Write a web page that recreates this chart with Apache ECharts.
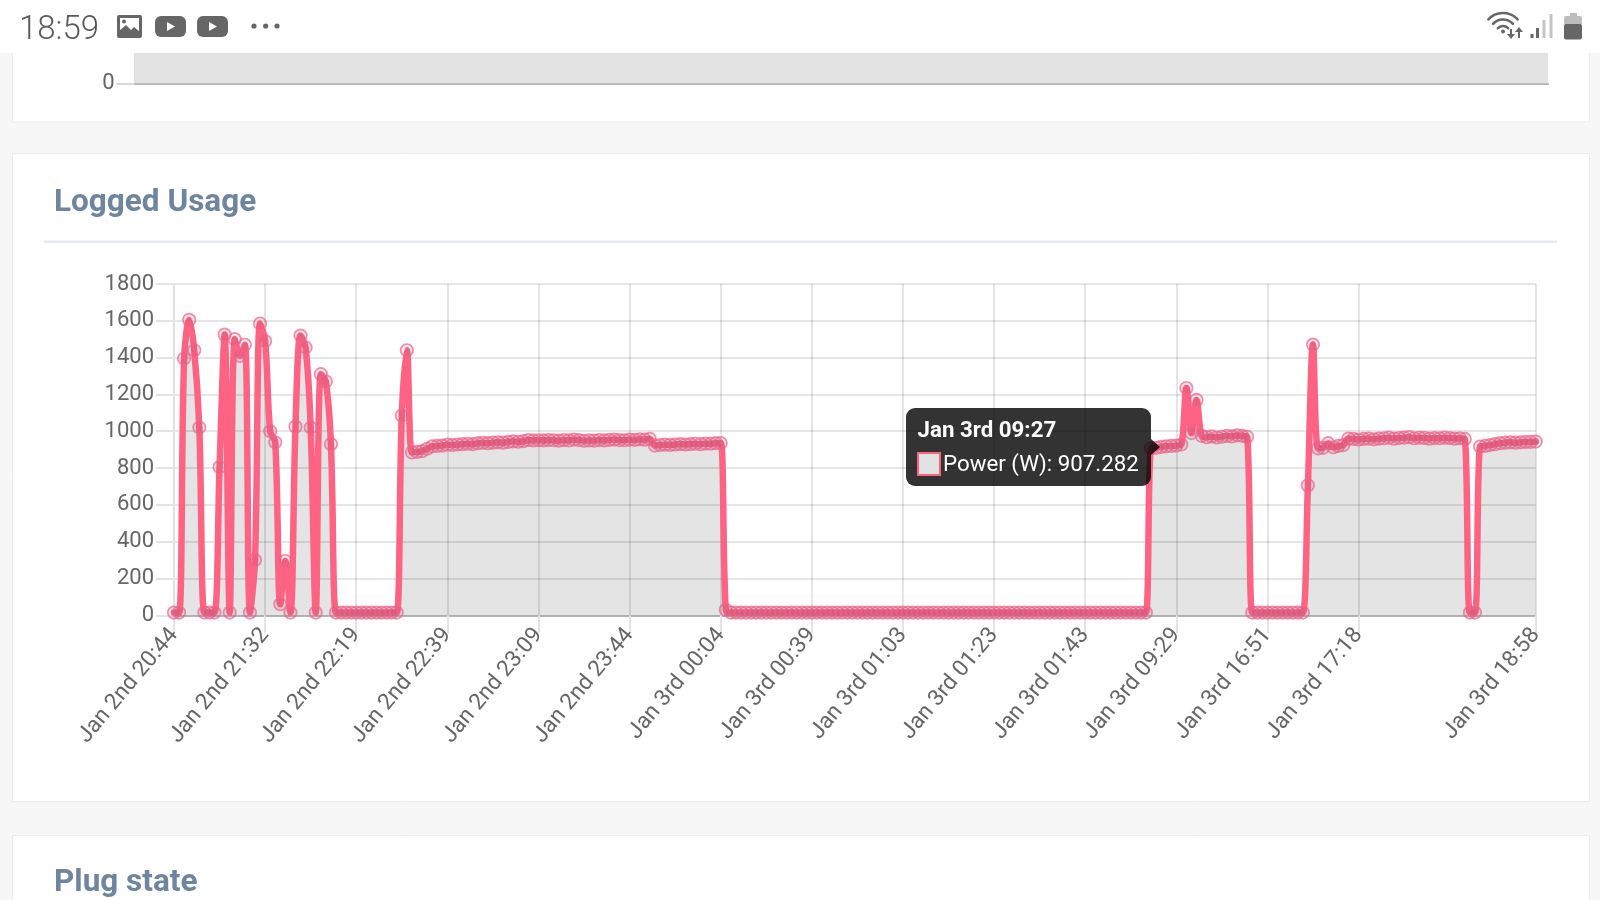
<!DOCTYPE html>
<html>
<head>
<meta charset="utf-8">
<style>html,body{margin:0;padding:0;background:#f7f7f7}#c{width:1600px;height:900px}</style>
<script src="https://cdn.jsdelivr.net/npm/echarts@6/dist/echarts.min.js"></script>
</head>
<body>
<div id="c"></div>
<script>
// ---- data ----
var burstValues = [15,15,1395,1605,1440,1020,15,15,15,805,1525,15,1500,1410,1470,15,300,1585,1490,1000,940,60,295,15,1025,1520,1455,1020,15,1310,1270,930,15,15,15,15,15,15,15,15,15,15,15,15,15,1085,1440];
var plateauA = [885,888,892,905,918,920,922,927,925,928,930,932,930,935,937,935,938,940,938,942,945,943,946,952,950,951,950,952,951,949,952,950,955,952,948,950,949,952,950,953,955,952,951,955,953,956,954,958,922,925,927,926,928,930,928,930,932,930,933,932,935,936];
var idleA = [30,15,15,15,15,15,15,15,15,15,15,15,15,15,15,15,15,15,15,15,15,15,15,15,15,15,15,15,15,15,15,15,15,15,15,15,15,15,15,15,15,15,15,15,15,15,15,15,15,15,15,15,15,15,15,15,15,15,15,15,15,15,15,15,15,15,15,15,15,15,15,15,15,15,15,15,15,15,15,15,15,15,15,15];
var plateauB = [907.282,910,915,918,920,922,928,1235,990,1170,975,968,972,966,970,975,972,978,975,970];
var idleB = [15,15,15,15,15,15,15,15,15,15,15];
var plateauC = [706,1471,907,910,935,913,920,925,960,958,955,958,960,956,960,962,965,960,963,965,968,962,965,964,960,963,962,965,963,960,962,958];
var idleC = [15,15];
var plateauD = [917,920,925,930,935,938,940,938,940,942,942,944];
var tickLabels = ['Jan 2nd 20:44','Jan 2nd 21:32','Jan 2nd 22:19','Jan 2nd 22:39','Jan 2nd 23:09','Jan 2nd 23:44','Jan 3rd 00:04','Jan 3rd 00:39','Jan 3rd 01:03','Jan 3rd 01:23','Jan 3rd 01:43','Jan 3rd 09:29','Jan 3rd 16:51','Jan 3rd 17:18','Jan 3rd 18:58'];
var tickIndexes = [0,18,36,54,72,90,108,126,144,162,180,198,216,234,269];
var hoverIndex = 193;
var hoverLabel = 'Jan 3rd 09:27';
var seriesName = 'Power (W)';
var upperCategories = ['start','end'];
var upperValues = [100,100];

var power = [].concat(burstValues, plateauA, idleA, plateauB, idleB, plateauC, idleC, plateauD);
var categories = power.map(function(){return '';});
tickIndexes.forEach(function(ix,k){categories[ix]=tickLabels[k];});
var isTick = function(i,v){return v!=='';};

var FONT='Roboto, sans-serif', GREY='#666', LINE='#ff6384';
var rect=function(x,y,w,h,fill,z,r,stroke){return {type:'rect',z:z,silent:true,shape:{x:x,y:y,width:w,height:h,r:r||0},style:{fill:fill,stroke:stroke||null,lineWidth:stroke?1:0}};};
var label=function(x,y,text,font,fill,z){return {type:'text',z:z,silent:true,style:{x:x,y:y,text:text,font:font,fill:fill,verticalAlign:'middle'}};};
var poly=function(pts,fill,z){return {type:'polygon',z:z,silent:true,shape:{points:pts},style:{fill:fill}};};
var arc=function(cx,cy,r,z){return {type:'arc',z:z,silent:true,shape:{cx:cx,cy:cy,r:r,startAngle:-Math.PI*0.76,endAngle:-Math.PI*0.24},style:{stroke:GREY,fill:null,lineWidth:2.6,lineCap:'round'}};};
var dot=function(cx,cy,r,fill,z){return {type:'circle',z:z,silent:true,shape:{cx:cx,cy:cy,r:r},style:{fill:fill}};};

var chrome=[
  rect(0,0,1600,900,'#f7f7f7',-30),
  rect(12.5,40,1577,82,'#fff',-20,0,'#ebebeb'),
  rect(12.5,153.5,1577,648,'#fff',-20,0,'#ebebeb'),
  rect(12.5,835.5,1577,90,'#fff',-20,0,'#ebebeb'),
  rect(44,240.5,1513,2.5,'#e6e9ed',-10),
  label(54,203,'Logged Usage','700 31.5px '+FONT,'#6f859e',-5),
  label(54,883,'Plug state','700 31.5px '+FONT,'#6f859e',-5),
  // status bar
  rect(0,0,1600,53,'#fff',50),
  label(19,31,'18:59','300 33px '+FONT,'#5a5a5a',60),
  rect(117,15,25,23,'#666',60,2),
  rect(120,18,19,15,'#fff',61),
  poly([[119,36],[119,31],[126,25],[131,30],[134,27],[140,32],[140,36]],'#666',62),
  dot(124,21.5,2,'#666',62),
  rect(155,16,31,21,'#666',60,6),
  poly([[167,22],[167,31],[175,26.5]],'#fff',61),
  rect(197,16,31,21,'#666',60,6),
  poly([[209,22],[209,31],[217,26.5]],'#fff',61),
  dot(254,26,2.6,'#666',60),dot(265.7,26,2.6,'#666',60),dot(277,26,2.6,'#666',60),
  arc(1503,33,20,60),arc(1503,33,13.5,60),arc(1503,33,7,60),
  dot(1503,31.5,2,'#666',60),
  rect(1510,29,2,8,'#666',60),poly([[1507,34],[1515,34],[1511,39]],'#666',60),
  rect(1518,30,2,8,'#666',60),poly([[1515,32],[1523,32],[1519,27]],'#666',60),
  rect(1530.5,34,3,4,'#666',60),rect(1536,28,3,10,'#666',60),
  rect(1542.5,20,3,18,'#c4c4c4',60),rect(1549.5,14,3,24,'#c4c4c4',60),
  rect(1570,13,7,4,'#bdbdbd',60),
  rect(1564,16,18,9,'#bdbdbd',60,2),
  rect(1564,24,18,15.5,'#666',60,2)
];

var plain=function(v){return String(v);};
var chart=echarts.init(document.getElementById('c'),null,{renderer:'canvas'});
chart.setOption({
  animation:false,
  backgroundColor:'#f7f7f7',
  graphic:{elements:chrome},
  textStyle:{fontFamily:FONT},
  grid:[
    {left:174,right:64.3,top:284,height:331.3,containLabel:false},
    {left:134.5,right:52,top:20,height:63.5,containLabel:false}
  ],
  xAxis:[
    {type:'category',gridIndex:0,data:categories,boundaryGap:false,
     axisLine:{lineStyle:{color:'#b4b4b4',width:2}},
     axisTick:{show:true,length:18,interval:isTick,lineStyle:{color:'#e4e4e4',width:2}},
     splitLine:{show:true,interval:isTick,lineStyle:{color:'rgba(0,0,0,0.1)',width:2}},
     axisLabel:{show:true,interval:isTick,rotate:50,margin:16,color:GREY,fontSize:22.5,fontFamily:FONT,hideOverlap:false}},
    {type:'category',gridIndex:1,data:upperCategories,boundaryGap:false,
     axisLine:{lineStyle:{color:'#b4b4b4',width:2}},axisTick:{show:false},axisLabel:{show:false},splitLine:{show:false}}
  ],
  yAxis:[
    {type:'value',gridIndex:0,min:0,max:1800,interval:200,
     axisLine:{show:true,lineStyle:{color:'#e0e0e0',width:2}},
     axisTick:{show:true,length:18,lineStyle:{color:'#e4e4e4',width:2}},
     splitLine:{show:true,lineStyle:{color:'rgba(0,0,0,0.1)',width:2}},
     axisLabel:{margin:20,color:GREY,fontSize:22,padding:[2,0,0,0],fontFamily:FONT,formatter:plain}},
    {type:'value',gridIndex:1,min:0,max:100,interval:100,
     axisLine:{show:true,lineStyle:{color:'#d8d8d8',width:2}},
     axisTick:{show:true,length:18,lineStyle:{color:'#d8d8d8',width:2}},
     splitLine:{show:false},
     axisLabel:{margin:20,color:GREY,fontSize:22,fontFamily:FONT,formatter:function(v){return v===0?'0':'';}}}
  ],
  tooltip:{
    show:true,trigger:'item',triggerOn:'none',alwaysShowContent:true,transitionDuration:0,
    backgroundColor:'rgba(0,0,0,0.8)',borderWidth:0,padding:0,
    extraCssText:'box-shadow:none;border-radius:9px;width:245px;height:78px;overflow:visible;',
    position:function(p){return [p[0]-245,p[1]-40];},
    formatter:function(a){
      return '<div style="position:relative;width:245px;height:78px;font-family:Roboto,sans-serif;color:#fff;font-size:22.3px;line-height:24px">'
       +'<div style="position:absolute;left:11.5px;top:9px;font-weight:700;white-space:nowrap">'+hoverLabel+'</div>'
       +'<div style="position:absolute;left:10.5px;top:44px;width:20px;height:20px;background:#e2e2e2;border:2px solid #ff6384"></div>'
       +'<div style="position:absolute;left:37px;top:43px;white-space:nowrap">'+a.seriesName+': '+a.value+'</div>'
       +'<div style="position:absolute;left:245px;top:31px;width:0;height:0;border-top:8px solid transparent;border-bottom:8px solid transparent;border-left:9px solid rgba(0,0,0,0.8)"></div>'
       +'</div>';
    }
  },
  series:[
    {type:'line',name:seriesName,xAxisIndex:0,yAxisIndex:0,data:power,smooth:0.35,clip:false,
     showSymbol:true,showAllSymbol:true,symbol:'circle',symbolSize:12.5,
     lineStyle:{color:LINE,width:6.5,cap:'round',join:'round'},
     itemStyle:{color:'rgba(150,70,100,0.14)',borderColor:'rgba(240,100,138,0.72)',borderWidth:1.7},
     areaStyle:{color:'rgba(0,0,0,0.105)',opacity:1,origin:'start'},
     emphasis:{disabled:true}},
    {type:'line',name:'upper',xAxisIndex:1,yAxisIndex:1,data:upperValues,showSymbol:false,silent:true,tooltip:{show:false},
     lineStyle:{width:0},areaStyle:{color:'#e3e3e3',opacity:1,origin:'start'},emphasis:{disabled:true}}
  ]
});
chart.dispatchAction({type:'showTip',seriesIndex:0,dataIndex:hoverIndex});
</script>
</body>
</html>
